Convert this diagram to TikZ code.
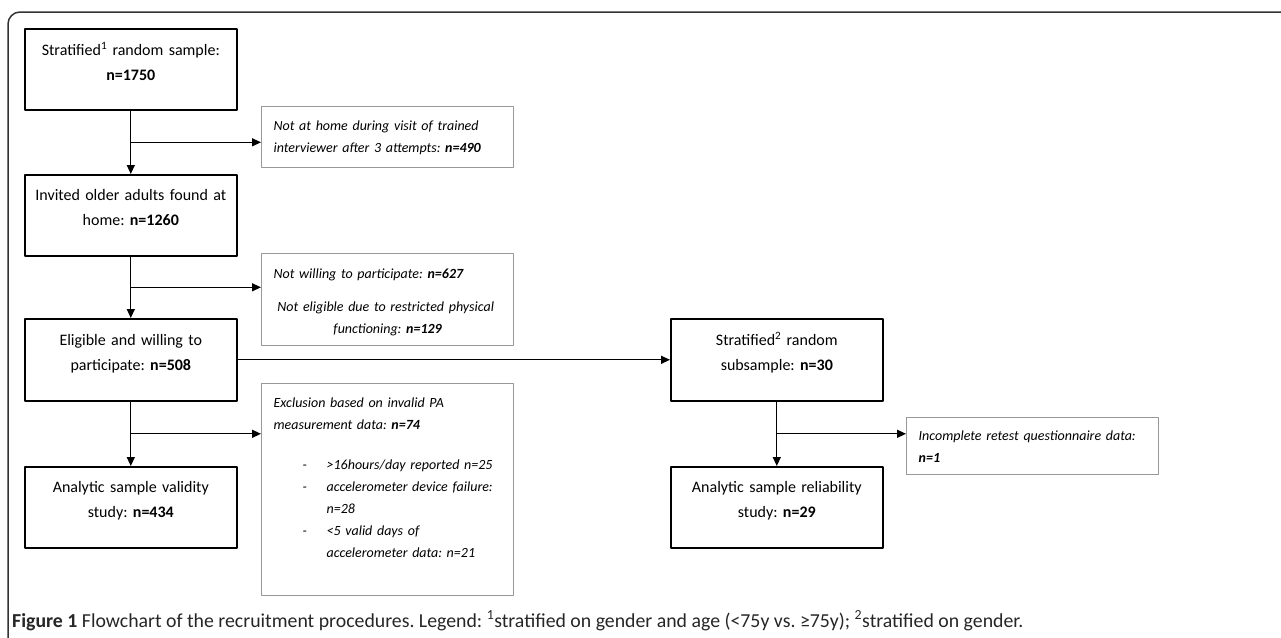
\documentclass[tikz,border=0pt]{standalone}
\usepackage{fontspec}
\setmainfont{Carlito}
\usetikzlibrary{arrows.meta,calc}
\frenchspacing
\tikzset{
  mainbox/.style={draw=black,line width=1.6pt,inner sep=0pt,text width=212pt,align=center,
    font=\fontsize{16}{24.5}\selectfont,anchor=north west},
  exclbox/.style={draw=black!40,line width=1.3pt,inner xsep=12pt,inner ysep=0pt,text width=228pt,
    align=left,font=\fontsize{14}{22}\selectfont\itshape,anchor=north west},
  flow/.style={line width=1.3pt,-{Triangle[length=9pt,width=8pt]}},
}
\newcommand{\itemdash}{\hangindent=53pt\hangafter=1\hspace*{29pt}\makebox[24pt][l]{-}}
\begin{document}
\begin{tikzpicture}[x=1pt,y=-1pt,line join=round]
\useasboundingbox (0,0) rectangle (1281,637);
% frame
\draw[line width=1.5pt,black!80,rounded corners=12pt] (8,650)--(8,12)--(1290,12);
% main boxes
\node[mainbox,text height=27pt,text depth=54pt] (sample) at (24,28) {Stratified\textsuperscript{1} random sample:\\ \textbf{n=1750}};
\node[mainbox,text height=26pt,text depth=55pt] (invited) at (24,174) {Invited older adults found at\\ home: \textbf{n=1260}};
\node[mainbox,text height=27pt,text depth=55pt] (eligible) at (24,318) {Eligible and willing to\\ participate: \textbf{n=508}};
\node[mainbox,text height=26pt,text depth=55pt] (validity) at (24,466) {Analytic sample validity\\ study: \textbf{n=434}};
\node[mainbox,text height=27pt,text depth=55pt] (subsample) at (670,318) {Stratified\textsuperscript{2} random\\ subsample: \textbf{n=30}};
\node[mainbox,text height=26pt,text depth=55pt] (reliability) at (670,466) {Analytic sample reliability\\ study: \textbf{n=29}};
% exclusion boxes
\node[exclbox,text height=24pt,text depth=37pt] (nothome) at (261,106) {Not at home during visit of trained\\ interviewer after 3 attempts: \textbf{n=490}};
\node[exclbox,text height=25pt,text depth=67pt] (notwilling) at (261,253) {Not willing to participate: \textbf{n=627}\par\vspace{11pt}
  {\centering Not eligible due to restricted physical\newline functioning: \textbf{n=129}\par}};
\node[exclbox,text height=24pt,text depth=188pt] (invalid) at (261,383) {Exclusion based on invalid PA\\ measurement data: \textbf{n=74}\par\vspace{18pt}
  \itemdash >16hours/day reported n=25\par
  \itemdash accelerometer device failure:\newline n=28\par
  \itemdash <5 valid days of\newline accelerometer data: n=21\par};
\node[exclbox,text height=23pt,text depth=34pt] (retest) at (906,417) {Incomplete retest questionnaire data:\\ \textbf{n=1}};
% connectors
\draw[flow] (sample) -- (invited);
\draw[flow] (invited) -- (eligible);
\draw[flow] (eligible) -- (validity);
\draw[flow] (subsample) -- (reliability);
\draw[flow] (eligible) -- (subsample);
\coordinate (j1) at ($(sample.south)!.5!(invited.north)$);
\coordinate (j2) at ($(invited.south)!.5!(eligible.north)$);
\coordinate (j3) at ($(eligible.south)!.5!(validity.north)$);
\coordinate (j4) at ($(subsample.south)!.5!(reliability.north)$);
\draw[flow] (j1) -- (j1 -| nothome.west);
\draw[flow] (j2) -- (j2 -| notwilling.west);
\draw[flow] (j3) -- (j3 -| invalid.west);
\draw[flow] (j4) -- (j4 -| retest.west);
% caption
\node[anchor=base west,inner sep=0pt,text=black!85,font=\fontsize{19.8}{24}\selectfont] (caption) at (12,627)
  {\textbf{Figure 1} Flowchart of the recruitment procedures. Legend: \textsuperscript{1}stratified on gender and age (<75y vs. ≥75y); \textsuperscript{2}stratified on gender.};
\end{tikzpicture}
\end{document}
